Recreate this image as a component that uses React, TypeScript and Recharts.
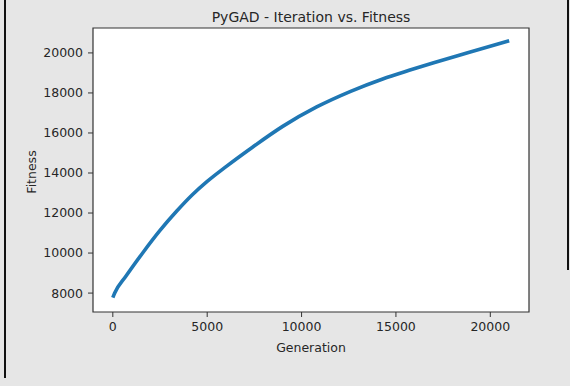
import { LineChart, Line, XAxis, YAxis, ReferenceArea } from 'recharts';

// values
const generations = [0, 100, 700, 1600, 2500, 3400, 4200, 5000, 6000, 7400, 9000, 10800, 12600, 14300, 15700, 17000, 18800, 21000];
const fitness = [7770, 8000, 8850, 10030, 11130, 12110, 12900, 13580, 14320, 15290, 16330, 17300, 18080, 18700, 19130, 19510, 20010, 20610];
const xTicks = [0, 5000, 10000, 15000, 20000];
const yTicks = [8000, 10000, 12000, 14000, 16000, 18000, 20000];

const X_DOMAIN: [number, number] = [-1050, 22050];
const Y_DOMAIN: [number, number] = [7055, 21245];

const chartData = generations.map((g, i) => ({ gen: g, fitness: fitness[i] }));

const font = '"DejaVu Sans", sans-serif';
const textColor = '#262626';

const App = () => {
  return (
    <div
      style={{
        position: 'absolute',
        left: 0,
        top: 0,
        width: 570,
        height: 386,
        background: '#e6e6e6',
        fontFamily: font,
        color: textColor,
        overflow: 'hidden',
      }}
    >
      {/* notebook cell borders */}
      <div style={{ position: 'absolute', left: 4, top: 0, width: 1.5, height: 378, background: '#111' }} />
      <div style={{ position: 'absolute', left: 567, top: 0, width: 1.5, height: 270, background: '#111' }} />

      <div style={{ position: 'absolute', left: 0, top: 0 }}>
        <LineChart width={570} height={386} data={chartData} margin={{ top: 28, right: 41, bottom: 0, left: 0 }}>
          <ReferenceArea
            x1={X_DOMAIN[0]}
            x2={X_DOMAIN[1]}
            y1={Y_DOMAIN[0]}
            y2={Y_DOMAIN[1]}
            fill="#ffffff"
            fillOpacity={1}
            stroke="#333333"
            strokeWidth={1.2}
            ifOverflow="visible"
          />
          <XAxis
            dataKey="gen"
            type="number"
            domain={X_DOMAIN}
            ticks={xTicks}
            allowDataOverflow
            height={74}
            axisLine={false}
            tickLine={{ stroke: '#333333' }}
            tickSize={5}
            tickMargin={5}
            tick={{ fill: textColor, fontSize: 12.5, fontFamily: font }}
          />
          <YAxis
            type="number"
            domain={Y_DOMAIN}
            ticks={yTicks}
            allowDataOverflow
            width={93}
            axisLine={false}
            tickLine={{ stroke: '#333333' }}
            tickSize={5}
            tickMargin={5}
            tick={{ fill: textColor, fontSize: 12.5, fontFamily: font }}
          />
          <Line
            type="monotone"
            dataKey="fitness"
            stroke="#1f77b4"
            strokeWidth={3.6}
            dot={false}
            isAnimationActive={false}
          />
        </LineChart>
      </div>

      <div style={{ position: 'absolute', left: 311, top: 17, transform: 'translate(-50%, -50%)', fontSize: 14, whiteSpace: 'nowrap' }}>
        PyGAD - Iteration vs. Fitness
      </div>
      <div style={{ position: 'absolute', left: 311, top: 347, transform: 'translate(-50%, -50%)', fontSize: 12.5, whiteSpace: 'nowrap' }}>
        Generation
      </div>
      <div
        style={{
          position: 'absolute',
          left: 31,
          top: 172,
          transform: 'translate(-50%, -50%) rotate(-90deg)',
          fontSize: 12.5,
          whiteSpace: 'nowrap',
        }}
      >
        Fitness
      </div>
    </div>
  );
};

export default App;
